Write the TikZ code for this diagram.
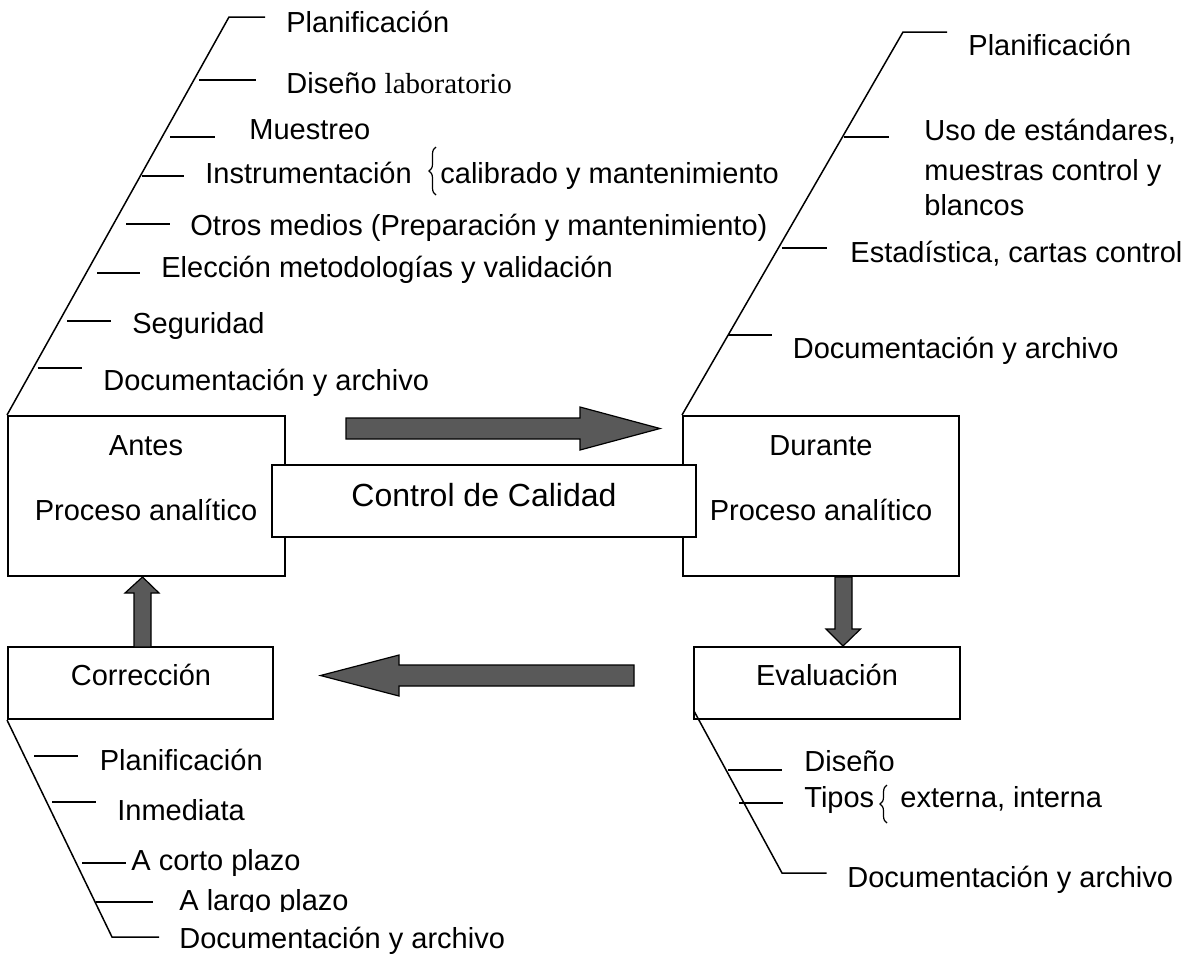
\documentclass[tikz,border=0pt]{standalone}
\usepackage{fontspec}
\setmainfont{Liberation Sans}
\newfontfamily\serifa{Liberation Serif}
\usetikzlibrary{decorations.pathreplacing}
\definecolor{arrowgray}{RGB}{89,89,89}
\begin{document}
\begin{tikzpicture}[x=0.5pt,y=-0.5pt,
  lbl/.style={anchor=base west, inner sep=0pt, font=\fontsize{14.5}{17}\selectfont},
  clbl/.style={anchor=base, inner sep=0pt, font=\fontsize{14.5}{17}\selectfont},
  boxnode/.style={draw, line width=1pt, fill=white, inner sep=0pt},
  tree/.style={line width=0.75pt},
  blockarrow/.style={draw=black, line width=0.6pt, fill=arrowgray, line join=miter},
  bracedeco/.style={line width=0.6pt, decorate, decoration={brace, amplitude=3.5pt}},
]
\useasboundingbox (0,0) rectangle (1192,955);

% ---- boxes ----
\node[boxnode, minimum width=138.5pt, minimum height=80pt] (antes) at (146.5,496) {};
\node[boxnode, minimum width=138pt, minimum height=80pt] (durante) at (821,496) {};
\node[boxnode, minimum width=211.75pt, minimum height=36pt] (cc) at (483.75,501) {};
\node[boxnode, minimum width=132.5pt, minimum height=36pt] (corr) at (140.5,683) {};
\node[boxnode, minimum width=133pt, minimum height=36pt] (eval) at (827,683) {};

\node[clbl] (tantes) at (146,455) {Antes};
\node[clbl] (tproca) at (146,520) {Proceso analítico};
\node[anchor=base, inner sep=0pt, font=\fontsize{16}{19}\selectfont] (tcc) at (484,506) {Control de Calidad};
\node[clbl] (tdurante) at (821,455) {Durante};
\node[clbl] (tprocd) at (821,520) {Proceso analítico};
\node[clbl] (tcorr) at (141,685) {Corrección};
\node[clbl] (teval) at (827,685) {Evaluación};

% ---- block arrows ----
\draw[blockarrow] (346,418) -- (580,418) -- (580,407) -- (660,428.5) -- (580,450) -- (580,439) -- (346,439) -- cycle;
\draw[blockarrow] (634,665) -- (399,665) -- (399,655) -- (320.5,675.5) -- (399,696) -- (399,686) -- (634,686) -- cycle;
\draw[blockarrow] (134,647) -- (134,593) -- (125,593) -- (142.5,577) -- (159,593) -- (151,593) -- (151,647) -- cycle;
\draw[blockarrow] (835,577) -- (835,629) -- (826,629) -- (843,646) -- (860.5,629) -- (852,629) -- (852,577) -- cycle;

% ---- tree: Antes ----
\coordinate (a0) at (229,17);
\draw[tree] (antes.north west) -- (a0) -- (265,17);
\draw[tree] (199,80) -- (256,80);
\draw[tree] (170,137) -- (215,137);
\draw[tree] (142,176) -- (184,176);
\draw[tree] (126,224) -- (170,224);
\draw[tree] (97,273) -- (140,273);
\draw[tree] (67,321) -- (111,321);
\draw[tree] (37.5,368) -- (81.5,368);

\node[lbl] (a1) at (286,32) {Planificación};
\node[lbl] (a2) at (286,93) {Diseño {\serifa laboratorio}};
\node[lbl] (a3) at (249,139) {Muestreo};
\node[lbl] (a4) at (205,183) {Instrumentación};
\draw[bracedeco] (436,195) -- (436,147);
\node[lbl] (a4b) at (440,183) {calibrado y mantenimiento};
\node[lbl] (a5) at (190,235) {Otros medios (Preparación y mantenimiento)};
\node[lbl] (a6) at (161,277) {Elección metodologías y validación};
\node[lbl] (a7) at (132,333) {Seguridad};
\node[lbl] (a8) at (103,390) {Documentación y archivo};

% ---- tree: Durante ----
\coordinate (d0) at (903,32);
\draw[tree] (durante.north west) -- (d0) -- (947,32);
\draw[tree] (843.5,137) -- (889,137);
\draw[tree] (782,248) -- (826.5,248);
\draw[tree] (728,335) -- (772,335);

\node[lbl] (d1) at (968,55) {Planificación};
\node[lbl] (d2) at (924,140) {Uso de estándares,};
\node[lbl] (d2b) at (924,180) {muestras control y};
\node[lbl] (d2c) at (924,215) {blancos};
\node[lbl] (d3) at (850,262) {Estadística, cartas control};
\node[lbl] (d4) at (792.5,358) {Documentación y archivo};

% ---- tree: Corrección ----
\coordinate (c0) at (112,937);
\draw[tree] (corr.south west) -- (c0) -- (159,937);
\draw[tree] (34,756) -- (78,756);
\draw[tree] (52,802) -- (96,802);
\draw[tree] (82,863) -- (126,863);
\draw[tree] (96,902) -- (153,902);

\node[lbl] (c1) at (99.5,770) {Planificación};
\node[lbl] (c2) at (117,820) {Inmediata};
\node[lbl] (c3) at (131,870) {A corto plazo};
\begin{scope}
\clip (170,870) rectangle (400,911);
\node[lbl] (c4) at (179,910) {A largo plazo};
\end{scope}
\node[lbl] (c5) at (179,948) {Documentación y archivo};

% ---- tree: Evaluación ----
\coordinate (e00) at (694,711);
\coordinate (e0) at (782,873);
\draw[tree] (e00) -- (e0) -- (826.5,873);
\draw[tree] (728,770) -- (782,770);
\draw[tree] (739,803) -- (783,803);

\begin{scope}
\clip (795,730) rectangle (900,770.5);
\node[lbl] (e1) at (804,771) {Diseño};
\end{scope}
\node[lbl] (e2) at (804,807) {Tipos};
\draw[bracedeco] (887,823) -- (887,785);
\node[lbl] (e2b) at (900,807) {externa, interna};
\node[lbl] (e3) at (847,887) {Documentación y archivo};
\end{tikzpicture}
\end{document}
